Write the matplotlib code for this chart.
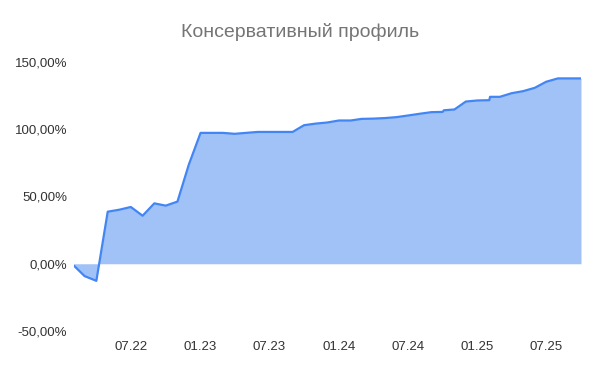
import matplotlib
matplotlib.use("Agg")
import matplotlib.pyplot as plt
import numpy as np
from datetime import datetime

dates = ["2022-02-01", "2022-03-01", "2022-04-01", "2022-05-01", "2022-06-01", "2022-07-01",
         "2022-08-01", "2022-09-01", "2022-10-01", "2022-11-01", "2022-12-01",
         "2023-01-01", "2023-02-01", "2023-03-01", "2023-04-01", "2023-05-01", "2023-06-01",
         "2023-07-01", "2023-08-01", "2023-09-01", "2023-10-01", "2023-11-01", "2023-12-01",
         "2024-01-01", "2024-02-01", "2024-03-01", "2024-04-01", "2024-05-01", "2024-06-01",
         "2024-07-01", "2024-08-01", "2024-09-01", "2024-10-01", "2024-10-04", "2024-11-01",
         "2024-12-01", "2025-01-01", "2025-02-01", "2025-02-03", "2025-03-01", "2025-04-01",
         "2025-05-01", "2025-06-01", "2025-07-01", "2025-08-01", "2025-09-01", "2025-10-01"]
values = [-1.5, -9.2, -12.7, 38.7, 40.2, 42.2,
          35.7, 44.9, 43.2, 46.2, 73.7,
          97.3, 97.3, 97.3, 96.6, 97.3, 98.0,
          98.0, 98.0, 98.0, 103.0, 104.2, 105.0,
          106.5, 106.5, 107.7, 107.9, 108.3, 109.0,
          110.2, 111.5, 112.7, 112.9, 114.1, 114.7,
          120.6, 121.4, 121.6, 124.1, 124.1, 126.8,
          128.3, 130.8, 135.3, 137.8, 137.8, 137.8]
tick_dates = ["2022-07-01", "2023-01-01", "2023-07-01", "2024-01-01", "2024-07-01", "2025-01-01", "2025-07-01"]
tick_labels = ["07.22", "01.23", "07.23", "01.24", "07.24", "01.25", "07.25"]
y_ticks = [-50, 0, 50, 100, 150]
y_labels = ["-50,00%", "0,00%", "50,00%", "100,00%", "150,00%"]
title = "Консервативный профиль"

plt.rcParams['font.family'] = ['Liberation Sans', 'DejaVu Sans']

x = [datetime.strptime(d, "%Y-%m-%d") for d in dates]
xt = [datetime.strptime(d, "%Y-%m-%d") for d in tick_dates]

fig = plt.figure(figsize=(6, 3.71), dpi=100)
ax = fig.add_axes([74/600, 1-331/371, (581-74)/600, (331-62)/371])
ax.fill_between(x, values, 0, color="#a1c2f7", linewidth=0)
ax.plot(x, values, color="#4285f4", linewidth=1.6, solid_joinstyle="round")
ax.set_xlim(x[0], x[-1])
ax.set_ylim(-50, 150)
ax.set_yticks(y_ticks)
ax.set_yticklabels(y_labels)
ax.set_xticks(xt)
ax.set_xticklabels(tick_labels)
for s in ax.spines.values():
    s.set_visible(False)
ax.tick_params(axis='both', length=0, labelsize=9.5, colors="#333333")
ax.tick_params(axis='y', pad=5)
ax.tick_params(axis='x', pad=7)
fig.text(0.5, 1-32/371, title, ha='center', va='center', fontsize=14, color="#757575")
fig.savefig("out.png", dpi=100)
